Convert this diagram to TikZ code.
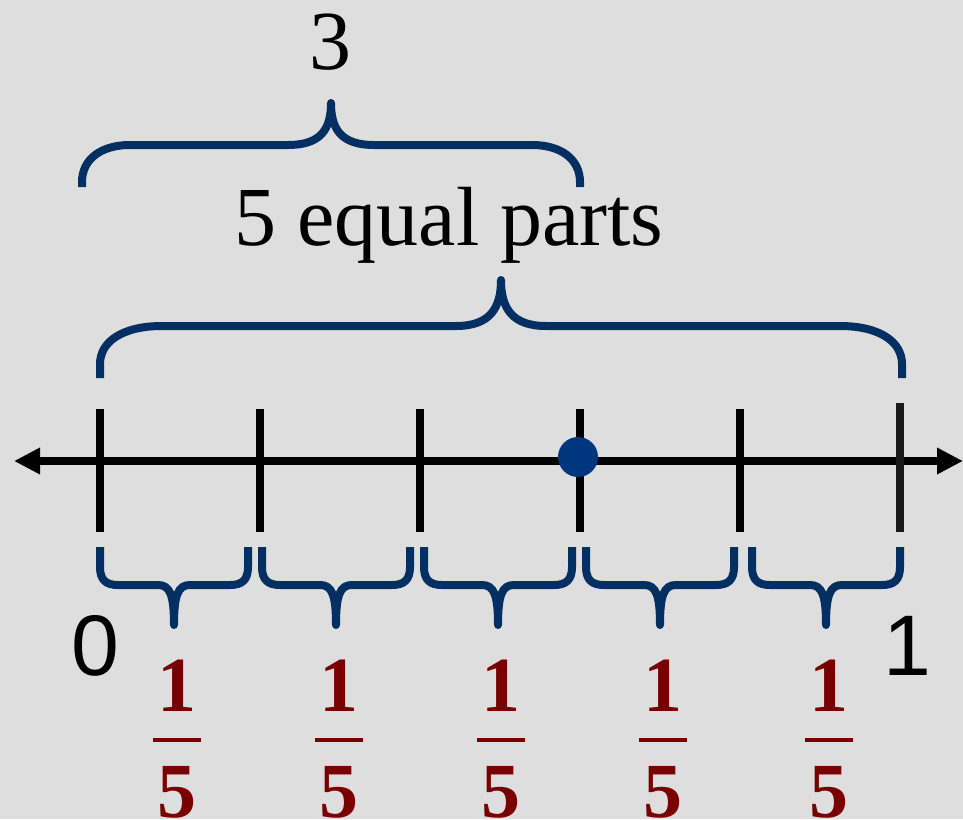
\documentclass[tikz,border=0pt]{standalone}
\usepackage{fontspec}
\setmainfont{Liberation Serif}
\setsansfont{Liberation Sans}
\usetikzlibrary{arrows.meta}
\definecolor{bgGray}{RGB}{222,222,222}
\definecolor{braceBlue}{RGB}{4,47,98}
\definecolor{dotBlue}{RGB}{0,54,125}
\definecolor{fracRed}{RGB}{122,0,0}

\begin{document}
\begin{tikzpicture}[
        x=1pt, y=-1pt,
        axis/.style={
            line width=8pt,
            {Triangle[length=26pt,width=25pt]}-{Triangle[length=26pt,width=25pt]}
        },
        tick/.style={line width=8pt},
        brace/.style={braceBlue, line width=8pt, line join=round},
        bigtext/.style={font=\fontsize{84}{84}\selectfont, inner sep=0pt},
        endlabel/.style={font=\sffamily\fontsize{86}{86}\selectfont, inner sep=0pt},
        fracnum/.style={fracRed, font=\bfseries\fontsize{78}{78}\selectfont, inner sep=0pt},
        fracbar/.style={fracRed, line width=4pt}
    ]

    \fill[bgGray] (0,0) rectangle (963,819);
    \useasboundingbox (0,0) rectangle (963,819);

    % number line
    \coordinate (axL) at (14,461);
    \coordinate (axR) at (963,461);
    \draw[axis] (axL) -- (axR);

    \foreach \x [count=\i from 0] in {100,260,420,580,740} {
        \coordinate (t\i) at (\x,461);
        \draw[tick] (\x,409) -- (\x,532);
    }
    \coordinate (t5) at (900,461);
    \draw[tick, black!90] (900,403) -- (900,532);

    \node[circle, fill=dotBlue, minimum size=40pt, inner sep=0pt] (dot) at (578,457) {};

    % top brace: 3
    \draw[brace] (82,187) -- (82,182) .. controls (82,160) and (100,145) .. (130,145) -- (288,145)
        .. controls (320,145) and (331,130) .. (331,103)
        .. controls (331,130) and (342,145) .. (374,145) -- (532,145)
        .. controls (562,145) and (580,160) .. (580,182) -- (580,187);
    \node[bigtext, anchor=base] (three) at (330,69) {3};

    % middle brace: 5 equal parts
    \draw[brace] (100,378) -- (100,364) .. controls (100,342) and (122,326) .. (162,326) -- (456,326)
        .. controls (490,326) and (501,308) .. (501,280)
        .. controls (501,308) and (512,326) .. (546,326) -- (840,326)
        .. controls (880,326) and (902,342) .. (902,364) -- (902,378);
    \node[bigtext, anchor=base] (parts) at (449,245) {5 equal parts};

    % small braces and fractions
    \foreach \a/\b [count=\i] in {100/248,262/410,424/572,586/734,752/900} {
        \pgfmathsetmacro{\m}{(\a+\b)/2}
        \draw[brace] (\a,547) -- (\a,567) .. controls (\a,580) and (\a+6,585) .. (\a+18,585) -- (\m-16,585)
            .. controls (\m-4,585) and (\m,595) .. (\m,625)
            .. controls (\m,595) and (\m+4,585) .. (\m+16,585) -- (\b-18,585)
            .. controls (\b-6,585) and (\b,580) .. (\b,567) -- (\b,547);
        \node[fracnum] (num\i) at (\m+3,686) {1};
        \node[fracnum] (den\i) at (\m+3,792) {5};
        \draw[fracbar] (\m-21,740) -- (\m+27,740);
    }

    \node[endlabel] (zero) at (95,646) {0};
    \node[endlabel] (one) at (907,646) {1};

\end{tikzpicture}
\end{document}
